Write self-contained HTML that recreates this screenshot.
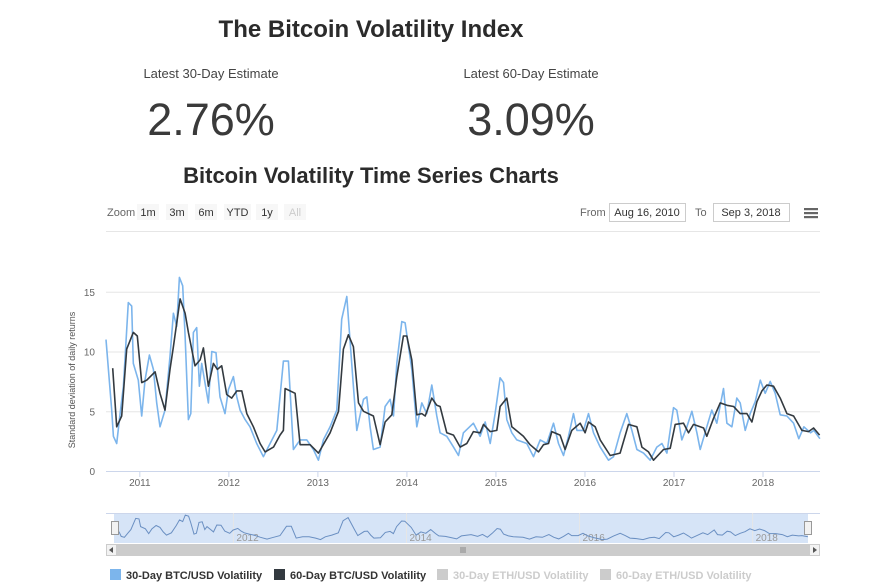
<!DOCTYPE html>
<html><head><meta charset="utf-8"><style>
body{margin:0;width:887px;height:584px;background:#fff;font-family:"Liberation Sans",sans-serif;color:#333;position:relative;overflow:hidden}
.t{position:absolute;white-space:nowrap}
</style></head><body>
<div class="t" style="left:0;width:742px;text-align:center;top:16px;font-size:24px;font-weight:bold;color:#2b2b2b">The Bitcoin Volatility Index</div>
<div class="t" style="left:111px;width:200px;text-align:center;top:66px;font-size:13px;color:#444">Latest 30-Day Estimate</div>
<div class="t" style="left:431px;width:200px;text-align:center;top:66px;font-size:13px;color:#444">Latest 60-Day Estimate</div>
<div class="t" style="left:111px;width:200px;text-align:center;top:94px;font-size:45px;font-weight:300;color:#3a3a3a">2.76%</div>
<div class="t" style="left:431px;width:200px;text-align:center;top:94px;font-size:45px;font-weight:300;color:#3a3a3a">3.09%</div>
<div class="t" style="left:0;width:742px;text-align:center;top:163px;font-size:22px;font-weight:bold;color:#2b2b2b">Bitcoin Volatility Time Series Charts</div>
<svg id="c" width="887" height="584" style="position:absolute;left:0;top:0"></svg>
<script>
const yTicks=[0,5,10,15];
const xTickYears=[2011,2012,2013,2014,2015,2016,2017,2018];
const navYears=[2012,2014,2016,2018];
const zoomLabels=["1m","3m","6m","YTD","1y","All"];
const legendLabels=["30-Day BTC/USD Volatility","60-Day BTC/USD Volatility","30-Day ETH/USD Volatility","60-Day ETH/USD Volatility"];
const d30t=[2010.62,2010.684,2010.703,2010.740,2010.778,2010.815,2010.871,2010.909,2010.927,2010.983,2011.021,2011.058,2011.107,2011.152,2011.189,2011.227,2011.283,2011.339,2011.377,2011.414,2011.444,2011.482,2011.508,2011.545,2011.572,2011.602,2011.639,2011.669,2011.695,2011.770,2011.808,2011.856,2011.901,2011.957,2011.995,2012.051,2012.089,2012.126,2012.182,2012.238,2012.313,2012.388,2012.463,2012.538,2012.613,2012.669,2012.725,2012.800,2012.875,2012.950,2013.006,2013.062,2013.137,2013.212,2013.268,2013.325,2013.399,2013.437,2013.512,2013.549,2013.587,2013.624,2013.699,2013.755,2013.811,2013.849,2013.886,2013.943,2013.980,2014.055,2014.111,2014.167,2014.223,2014.280,2014.336,2014.373,2014.448,2014.523,2014.579,2014.635,2014.747,2014.822,2014.879,2014.935,2014.991,2015.047,2015.085,2015.122,2015.178,2015.234,2015.347,2015.422,2015.497,2015.571,2015.646,2015.703,2015.759,2015.815,2015.871,2015.909,2015.983,2016.040,2016.096,2016.171,2016.264,2016.321,2016.395,2016.470,2016.527,2016.583,2016.658,2016.733,2016.807,2016.864,2016.920,2016.995,2017.032,2017.088,2017.145,2017.201,2017.257,2017.294,2017.369,2017.425,2017.481,2017.556,2017.594,2017.650,2017.706,2017.744,2017.800,2017.856,2017.912,2017.969,2018.025,2018.081,2018.137,2018.193,2018.268,2018.343,2018.402,2018.459,2018.533,2018.571,2018.639];
const d30v=[11.0,5.1,2.9,2.3,4.8,7.1,14.1,13.8,9.0,7.6,4.6,7.6,9.7,8.5,5.7,3.7,5.1,9.6,13.2,12.1,16.2,15.5,11.3,4.3,4.8,11.6,12.0,7.1,9.0,5.7,10.0,9.9,6.2,4.8,6.8,7.9,6.2,5.1,4.3,3.7,2.3,1.2,2.3,3.4,9.2,9.2,1.8,2.6,2.6,1.8,0.9,2.6,3.7,5.1,12.7,14.6,7.1,3.4,6.0,6.2,3.7,1.8,2.0,5.4,6.0,4.6,9.0,12.5,12.4,8.5,3.7,5.7,4.8,7.2,4.6,3.2,2.9,2.0,1.3,3.2,4.0,2.9,4.1,2.3,4.8,7.8,7.4,4.3,3.2,2.6,2.3,1.2,2.6,2.3,4.0,2.3,1.3,2.9,4.8,3.4,3.4,4.8,3.2,2.0,0.9,1.2,3.2,4.8,3.4,1.8,1.5,0.9,2.0,2.3,1.5,5.3,5.1,2.6,3.7,5.0,3.2,1.8,3.7,5.1,4.0,6.9,4.0,3.7,6.1,5.7,3.4,4.8,5.8,7.6,6.5,7.5,6.5,4.7,4.6,4.0,2.7,3.7,3.2,3.4,2.7];
const d60t=[2010.695,2010.740,2010.796,2010.853,2010.927,2010.972,2011.021,2011.077,2011.171,2011.227,2011.283,2011.339,2011.377,2011.452,2011.508,2011.545,2011.620,2011.677,2011.714,2011.770,2011.826,2011.871,2011.920,2011.976,2012.032,2012.089,2012.145,2012.201,2012.276,2012.351,2012.407,2012.501,2012.575,2012.613,2012.632,2012.744,2012.800,2012.913,2013.006,2013.137,2013.231,2013.287,2013.343,2013.399,2013.456,2013.512,2013.624,2013.699,2013.755,2013.830,2013.886,2013.961,2013.999,2014.055,2014.111,2014.167,2014.205,2014.280,2014.336,2014.373,2014.448,2014.523,2014.598,2014.673,2014.747,2014.822,2014.860,2014.935,2015.010,2015.047,2015.122,2015.178,2015.309,2015.384,2015.478,2015.534,2015.590,2015.628,2015.721,2015.777,2015.852,2015.946,2016.002,2016.040,2016.115,2016.171,2016.283,2016.395,2016.489,2016.583,2016.639,2016.714,2016.770,2016.882,2016.957,2017.013,2017.107,2017.163,2017.219,2017.332,2017.369,2017.444,2017.519,2017.594,2017.669,2017.744,2017.819,2017.875,2017.931,2017.987,2018.043,2018.118,2018.193,2018.268,2018.343,2018.437,2018.511,2018.568,2018.635];
const d60v=[8.6,3.7,4.6,10.2,11.6,11.3,7.4,7.6,8.3,6.5,5.1,8.5,10.4,14.4,13.2,11.6,8.8,9.3,10.3,7.1,9.0,8.5,8.8,6.4,6.1,6.7,6.7,4.8,3.7,2.3,1.6,2.0,3.0,3.4,6.9,6.5,2.2,2.2,1.5,3.2,5.0,10.2,11.4,10.4,5.7,5.0,4.6,2.2,4.1,4.7,7.9,11.3,11.3,9.3,4.7,4.8,4.6,6.1,5.5,5.4,3.2,3.0,2.0,2.3,3.3,3.2,3.9,3.3,3.4,5.4,6.1,3.7,2.9,2.2,1.6,2.2,2.3,3.3,3.0,1.8,3.4,4.0,3.2,4.1,3.7,2.6,1.3,1.5,3.9,3.7,2.0,1.6,0.9,1.8,1.9,3.9,4.0,3.2,3.9,3.6,2.9,4.4,5.7,5.5,5.4,4.8,4.8,4.1,5.8,6.7,7.2,7.1,6.1,4.8,4.6,3.4,3.3,3.6,3.0];

const NS="http://www.w3.org/2000/svg",svg=document.getElementById('c');
const T0=2010.62,T1=2018.64;
const xs=t=>106+(t-T0)/(T1-T0)*714;
const ys=v=>471-v*11.95;
const nx=t=>114+(t-T0)/(T1-T0)*694;
const ny=v=>541-v*1.6;
function el(tag,a,txt){const e=document.createElementNS(NS,tag);for(const k in a)e.setAttribute(k,a[k]);if(txt!=null)e.textContent=txt;svg.appendChild(e);return e;}

let z=el('text',{x:107,y:216,'font-size':11,fill:'#666'},'Zoom');


const bx=[137,166,195,224,256,284];
zoomLabels.forEach((l,i)=>{
  const w=l==='YTD'?27:22;
  const r=el('rect',{x:bx[i],y:204,width:w,height:16,fill:'#f7f7f7'});
  
  
  const tx=el('text',{x:bx[i]+w/2,y:216,'font-size':11,'text-anchor':'middle',fill:i===5?'#ccc':'#333'},l);
  
  
});
let f=el('text',{x:580,y:216,'font-size':11,fill:'#666'},'From');


let fb=el('rect',{x:609.5,y:203.5,width:76,height:18,fill:'#fff',stroke:'#ccc'});


el('text',{x:647,y:216,'font-size':11,'text-anchor':'middle',fill:'#333'},'Aug 16, 2010');
let to=el('text',{x:695,y:216,'font-size':11,fill:'#666'},'To');


let tb=el('rect',{x:713.5,y:203.5,width:76,height:18,fill:'#fff',stroke:'#ccc'});


el('text',{x:751,y:216,'font-size':11,'text-anchor':'middle',fill:'#333'},'Sep 3, 2018');
const mg=el('g',{});


[208,212,216].forEach(y=>{const r=document.createElementNS(NS,'rect');r.setAttribute('x',804);r.setAttribute('y',y);r.setAttribute('width',14);r.setAttribute('height',2.2);r.setAttribute('fill','#666');mg.appendChild(r);});
el('line',{x1:106,x2:820,y1:231.5,y2:231.5,stroke:'#e6e6e6'});

yTicks.forEach(v=>{
  if(v>0){const g=el('line',{x1:106,x2:820,y1:ys(v)+.5,y2:ys(v)+.5,stroke:'#e6e6e6'});
  
  }
  const t=el('text',{x:95,y:ys(v)+4,'font-size':10,'text-anchor':'end',fill:'#666'},v);
  
  
});
const yt=el('text',{x:0,y:0,'font-size':9,'text-anchor':'middle',fill:'#555',transform:'translate(75,380) rotate(-90)'},'Standard deviation of daily returns');


const ax=el('line',{x1:106,x2:820,y1:471.5,y2:471.5,stroke:'#ccd6eb'});


xTickYears.forEach(y=>{
  el('line',{x1:xs(y),x2:xs(y),y1:472,y2:477,stroke:'#ccd6eb'});
  const t=el('text',{x:xs(y),y:486,'font-size':10,'text-anchor':'middle',fill:'#666'},y);
  
  
});
function path(ts,vs,fx,fy){return ts.map((t,i)=>(i?'L':'M')+fx(t).toFixed(1)+','+fy(vs[i]).toFixed(1)).join('');}
const s30=el('path',{d:path(d30t,d30v,xs,ys),fill:'none',stroke:'#7cb5ec','stroke-width':1.6,'stroke-linejoin':'round'});


const s60=el('path',{d:path(d60t,d60v,xs,ys),fill:'none',stroke:'#333a40','stroke-width':1.6,'stroke-linejoin':'round'});



const nv=el('rect',{x:114,y:513,width:694,height:30,fill:'#d6e4f7'});


el('line',{x1:106,x2:820,y1:513.5,y2:513.5,stroke:'#ccd6eb'});
navYears.forEach(y=>{
  el('line',{x1:nx(y),x2:nx(y),y1:513,y2:543,stroke:'#e6e6e6'});
  const t=el('text',{x:nx(y)+3,y:541,'font-size':10,fill:'#999'},y);
  
  
});
const np=el('path',{d:path(d30t,d30v,nx,ny),fill:'none',stroke:'#6a8fc2','stroke-width':1});


[115,808].forEach((x,i)=>{const h=el('rect',{x:x-3.5,y:521.5,width:7,height:13,fill:'#f2f2f2',stroke:'#999'});

});
const sb=el('rect',{x:106,y:544,width:714,height:12,fill:'#ccc'});


el('rect',{x:106.5,y:544.5,width:10,height:11,fill:'#f2f2f2',stroke:'#ccc'});
el('rect',{x:809.5,y:544.5,width:10,height:11,fill:'#f2f2f2',stroke:'#ccc'});
el('path',{d:'M113,547L109,550L113,553Z',fill:'#555'});
el('path',{d:'M813,547L817,550L813,553Z',fill:'#555'});
el('path',{d:'M461,547V553M463,547V553M465,547V553',stroke:'#888'});

const lx=[110,274,437,600],lc=['#7cb5ec','#333a40','#ccc','#ccc'],tc=['#333','#333','#ccc','#ccc'];
legendLabels.forEach((l,i)=>{
  const r=el('rect',{x:lx[i],y:569,width:11,height:11,fill:lc[i]});
  
  
  const t=el('text',{x:lx[i]+16,y:579,'font-size':11,'font-weight':'bold',fill:tc[i]},l);
  
  
});
</script>
</body></html>
